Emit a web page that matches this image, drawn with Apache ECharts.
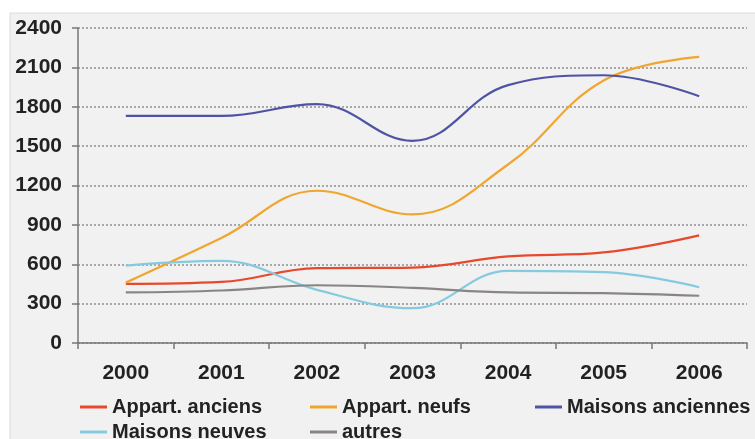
<!DOCTYPE html>
<html>
<head>
<meta charset="utf-8">
<script src="https://cdn.jsdelivr.net/npm/echarts@6/dist/echarts.min.js"></script>
<style>
  html, body { margin: 0; padding: 0; background: #ffffff; }
  #chart { width: 755px; height: 439px; }
</style>
</head>
<body>
<div id="chart"></div>
<script>
// Years on the category axis
const years = ['2000', '2001', '2002', '2003', '2004', '2005', '2006'];

// Values per housing type
const appartAnciens = [450, 465, 570, 575, 660, 690, 820];
const appartNeufs = [460, 800, 1160, 980, 1360, 2000, 2180];
const maisonsAnciennes = [1730, 1730, 1820, 1540, 1965, 2040, 1880];
const maisonsNeuves = [590, 625, 405, 265, 550, 540, 425];
const autres = [385, 400, 440, 420, 385, 380, 360];

// Value axis ticks
const yMin = 0;
const yMax = 2400;
const yStep = 300;

const seriesNames = ['Appart. anciens', 'Appart. neufs', 'Maisons anciennes', 'Maisons neuves', 'autres'];
const seriesData = [appartAnciens, appartNeufs, maisonsAnciennes, maisonsNeuves, autres];
const seriesColors = ['#e8482c', '#f0a62e', '#4f53a4', '#86cadf', '#8a8582'];

// Legend slots: [left, top] for each series, two rows
const legendSlots = [[80, 397], [310, 397], [535, 397], [80, 422], [310, 422]];

const textFont = '"Liberation Sans", Arial, sans-serif';

const chart = echarts.init(document.getElementById('chart'), null, { renderer: 'canvas' });

const legendText = { fontFamily: textFont, fontWeight: 'bold', fontSize: 20, color: '#222222' };

chart.setOption({
  animation: false,
  backgroundColor: '#ffffff',
  graphic: [{
    type: 'rect',
    z: -10,
    shape: { x: 10, y: 13, width: 746, height: 427 },
    style: { fill: '#f1f1f1', stroke: '#dcdcdc', lineWidth: 1 }
  }],
  grid: { left: 78, right: 8, top: 28, bottom: 96, containLabel: false },
  legend: seriesNames.map((name, i) => ({
    left: legendSlots[i][0],
    top: legendSlots[i][1],
    orient: 'horizontal',
    data: [name],
    itemWidth: 27,
    itemHeight: 3,
    icon: 'rect',
    padding: 0,
    textStyle: legendText,
    selectedMode: false
  })),
  xAxis: {
    type: 'category',
    data: years,
    boundaryGap: true,
    axisLine: { lineStyle: { color: '#7a7676', width: 1.5 } },
    axisTick: { show: true, inside: false, length: 6, alignWithLabel: false, lineStyle: { color: '#7a7676', width: 1.5 } },
    axisLabel: { margin: 20, fontFamily: textFont, fontWeight: 'bold', fontSize: 21, color: '#222222' },
    splitLine: { show: false }
  },
  yAxis: {
    type: 'value',
    min: yMin,
    max: yMax,
    interval: yStep,
    axisLine: { show: true, lineStyle: { color: '#7a7676', width: 1.5 } },
    axisTick: { show: true, length: 6, lineStyle: { color: '#7a7676', width: 1.5 } },
    axisLabel: {
      margin: 16,
      fontFamily: textFont, fontWeight: 'bold', fontSize: 21, color: '#222222',
      formatter: (v) => String(v)
    },
    splitLine: { show: true, lineStyle: { color: '#8e8e8e', width: 1.5, type: [2, 2] } }
  },
  series: seriesNames.map((name, i) => ({
    name: name,
    type: 'line',
    data: seriesData[i],
    smooth: 0.4,
    showSymbol: false,
    symbol: 'none',
    color: seriesColors[i],
    lineStyle: { color: seriesColors[i], width: 2.2 },
    z: 3
  }))
});
</script>
</body>
</html>
